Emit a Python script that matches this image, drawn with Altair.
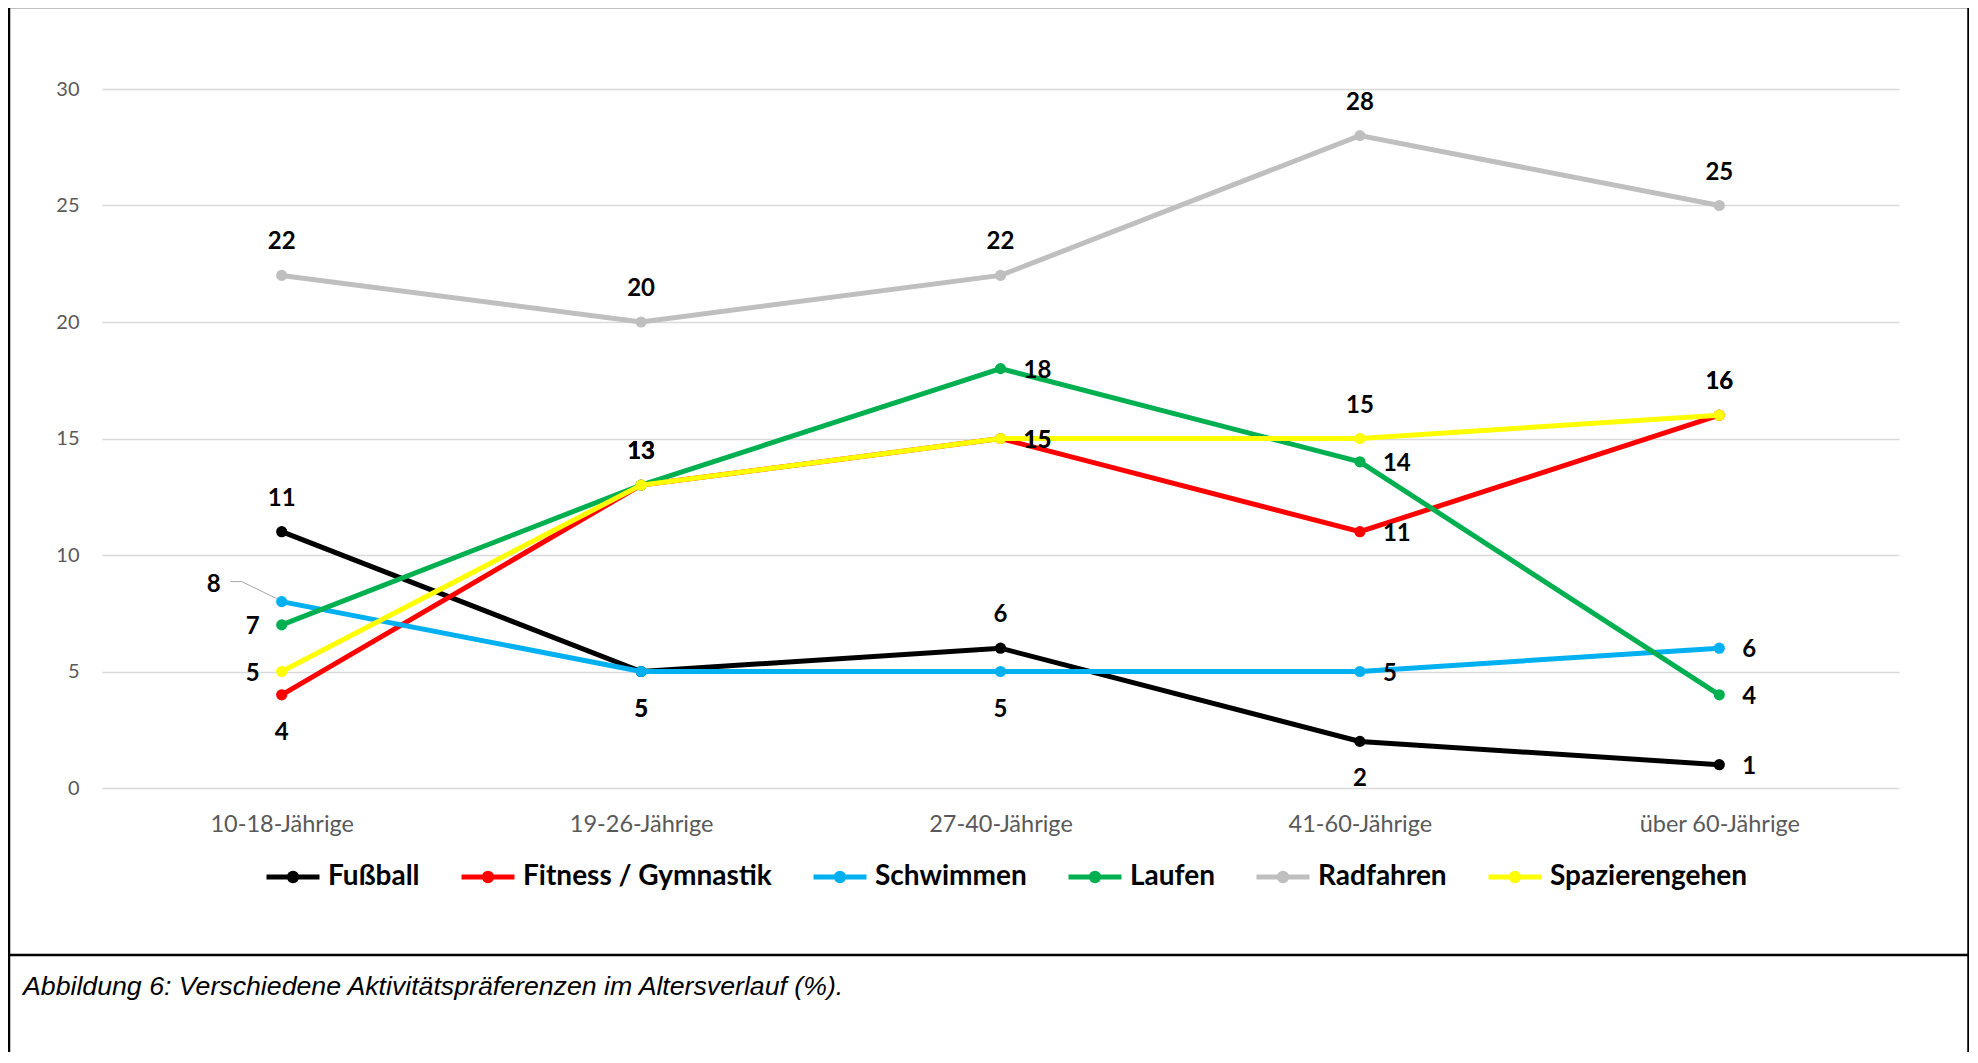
import altair as alt
import pandas as pd

# ---------------- data ----------------
categories = ["10-18-Jährige", "19-26-Jährige", "27-40-Jährige", "41-60-Jährige", "über 60-Jährige"]
series_names = ["Fußball", "Fitness / Gymnastik", "Schwimmen", "Laufen", "Radfahren", "Spazierengehen"]
fussball = [11, 5, 6, 2, 1]
fitness = [4, 13, 15, 11, 16]
schwimmen = [8, 5, 5, 5, 6]
laufen = [7, 13, 18, 14, 4]
radfahren = [22, 20, 22, 28, 25]
spazieren = [5, 13, 15, 15, 16]
y_ticks = [0, 5, 10, 15, 20, 25, 30]
caption = "Abbildung 6: Verschiedene Aktivitätspräferenzen im Altersverlauf (%)."

# ---------------- styles ----------------
colors = ["#000000", "#FF0000", "#00B0F0", "#00B050", "#BFBFBF", "#FFFF00"]
label_place = {
    "Fußball": ["above", "below", "above", "below", "right"],
    "Fitness / Gymnastik": ["below", "above", "right", "right", "above"],
    "Schwimmen": ["leader", "below", "below", "right", "right"],
    "Laufen": ["left", "above", "right", "right", "right"],
    "Radfahren": ["above", "above", "above", "above", "above"],
    "Spazierengehen": ["left", "above", "right", "above", "above"],
}

values = [fussball, fitness, schwimmen, laufen, radfahren, spazieren]
rows = []
for s, vals in zip(series_names, values):
    for c, v, p in zip(categories, vals, label_place[s]):
        rows.append({"Serie": s, "Alter": c, "Wert": v, "place": p})
df = pd.DataFrame(rows)

FONT = "Lato"
W, H = 1797, 699

xenc = alt.X("Alter:N", sort=categories,
             scale=alt.Scale(type="point", padding=0.5),
             axis=alt.Axis(title=None, labelAngle=0, labelFont=FONT, labelFontSize=23.5,
                           labelColor="#595959", labelPadding=24, ticks=False, domain=False,
                           grid=False))
yenc = alt.Y("Wert:Q", scale=alt.Scale(domain=[0, 30], nice=False),
             axis=alt.Axis(title=None, values=y_ticks, labelFont=FONT, labelFontSize=20,
                           labelColor="#595959", labelPadding=23, ticks=False, domain=False,
                           grid=True, gridColor="#D9D9D9", gridWidth=1.5))

legend_path = "M-1,0L1,0M-0.14,0A0.14,0.14,0,1,1,0.14,0A0.14,0.14,0,1,1,-0.14,0"
color_enc = alt.Color("Serie:N", scale=alt.Scale(domain=series_names, range=colors),
                      legend=alt.Legend(title=None, orient="none", direction="horizontal",
                                        columns=6, legendX=162, legendY=759,
                                        symbolType=legend_path, symbolSize=2809,
                                        symbolStrokeWidth=5, labelFont=FONT,
                                        labelFontSize=28, labelFontWeight="bold",
                                        labelColor="#000000", labelOffset=6,
                                        columnPadding=31, labelLimit=600))

base = alt.Chart(df)
layers = []
for s in series_names:
    layers.append(
        base.transform_filter(alt.datum.Serie == s)
        .mark_line(strokeWidth=5, point=alt.OverlayMarkDef(filled=True, size=125, opacity=1))
        .encode(x=xenc, y=yenc, color=color_enc)
    )

# leader line for the displaced label
leader = base.transform_filter(alt.datum.place == "leader")
layers.append(leader.mark_rule(color="#A6A6A6", strokeWidth=1, xOffset=-51, yOffset=-20,
                               x2Offset=-40, y2Offset=-20)
              .encode(x=xenc, y=yenc, x2="Alter:N", y2="Wert:Q"))
layers.append(leader.mark_rule(color="#A6A6A6", strokeWidth=1, xOffset=-40, yOffset=-20,
                               x2Offset=-5, y2Offset=-3)
              .encode(x=xenc, y=yenc, x2="Alter:N", y2="Wert:Q"))

txt = dict(font=FONT, fontSize=24, fontWeight="bold", color="#000000", baseline="middle")
place_style = {
    "above": dict(align="center", dx=0, dy=-33),
    "below": dict(align="center", dx=0, dy=38),
    "right": dict(align="left", dx=23, dy=2),
    "left": dict(align="right", dx=-22, dy=2),
    "leader": dict(align="center", dx=-68, dy=-17),
}
for p, st in place_style.items():
    layers.append(base.transform_filter(alt.datum.place == p)
                  .mark_text(**txt, **st)
                  .encode(x=xenc, y=yenc, text="Wert:Q"))

# frame and caption
one = alt.Chart(pd.DataFrame({"k": [0]}))
fx0, fx1, fy0, fy1, fsep = -93, 1866.5, -82, 990, 866
frame_style = dict(color="#000000", strokeWidth=2.5)
layers.append(one.mark_rule(**frame_style).encode(x=alt.value(fx0), x2=alt.value(fx0), y=alt.value(fy0), y2=alt.value(fy1)))
layers.append(one.mark_rule(**frame_style).encode(x=alt.value(fx1), x2=alt.value(fx1), y=alt.value(fy0), y2=alt.value(fy1)))
layers.append(one.mark_rule(**frame_style).encode(x=alt.value(fx0), x2=alt.value(fx1), y=alt.value(fy0), y2=alt.value(fy0)))
layers.append(one.mark_rule(**frame_style).encode(x=alt.value(fx0), x2=alt.value(fx1), y=alt.value(fsep), y2=alt.value(fsep)))
layers.append(one.mark_text(font="Liberation Sans", fontSize=26.7, fontStyle="italic", align="left",
                            baseline="middle", color="#000000")
              .encode(x=alt.value(-79), y=alt.value(898), text=alt.value(caption)))

chart = alt.layer(*layers).properties(
    width=W, height=H, autosize="none", background="#FFFFFF",
    padding={"left": 94, "top": 81, "right": 70, "bottom": 264},
).configure_view(stroke=None)

chart.save("out.html", embed_options={"renderer": "svg", "actions": False})
